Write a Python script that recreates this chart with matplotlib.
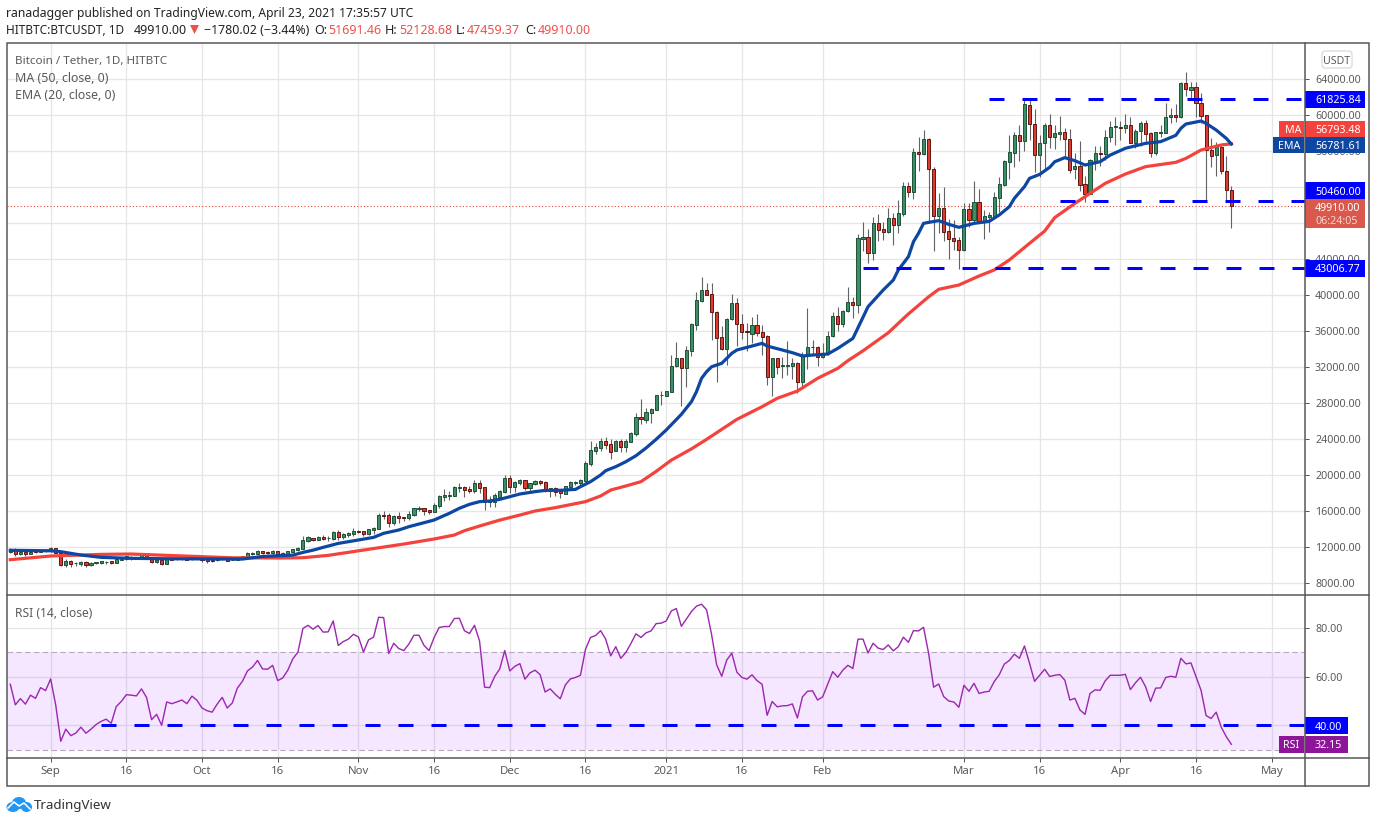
import matplotlib
matplotlib.use("Agg")
import matplotlib.pyplot as plt
import numpy as np
import pandas as pd
from matplotlib.patches import Ellipse, FancyBboxPatch, Polygon, Rectangle

plt.rcParams["font.family"] = ["Noto Sans", "DejaVu Sans"]

W, H = 1376, 823

# Daily candles
start_date = "2020-08-24"
opens = [
    11480, 11740, 11260, 11410, 11260, 11520, 11440, 11660, 11520, 11850,
    11370, 10000, 10410, 10180, 10150, 10300, 10040, 10190, 10260, 10370,
    10410, 10260, 10590, 10670, 10930, 10850, 10820, 11070, 10850, 10370,
    10550, 10150, 10780, 10630, 10660, 10780, 10630, 10850, 10740, 10670,
    10590, 10520, 10630, 10740, 10580, 10590, 10820, 10890, 11260, 11220,
    11520, 11440, 11330, 11520, 11150, 11220, 11480, 11670, 11810, 12670,
    12960, 12780, 13110, 12990, 12920, 13630, 13070, 13330, 13440, 13780,
    13780, 13440, 13890, 14030, 15520, 15550, 14630, 15400, 15330, 15220,
    15550, 16220, 16330, 16070, 15920, 16550, 17550, 17660, 17700, 18520,
    18630, 18440, 18260, 19070, 18630, 17050, 17040, 17590, 18150, 19660,
    18660, 19110, 19440, 18550, 19000, 19330, 19220, 18220, 18520, 18180,
    17920, 18660, 19110, 19110, 19330, 21220, 22700, 23040, 23740, 23400,
    22700, 23740, 23150, 23700, 24590, 26400, 26110, 26920, 27260, 28870,
    28810, 29260, 32150, 32960, 31930, 33810, 36700, 39370, 40520, 40070,
    38070, 35300, 33960, 37300, 39070, 36740, 36000, 35700, 36630, 35850,
    35410, 30850, 32960, 32070, 32110, 32150, 32410, 30300, 33260, 34180,
    34180, 33070, 33480, 35410, 37630, 36810, 38260, 39190, 38900, 46260,
    46440, 44700, 47960, 47300, 47000, 48520, 47810, 49040, 52070, 51480,
    55890, 55700, 57300, 54040, 48820, 49630, 47070, 46300, 46070, 45000,
    49520, 48330, 50330, 48220, 48700, 48810, 50810, 52260, 54810, 55810,
    57740, 57150, 61070, 58960, 55520, 56850, 58850, 57590, 57920, 58070,
    57290, 54030, 54290, 52300, 51260, 54920, 55740, 55700, 57520, 58660,
    58630, 58560, 58850, 56930, 58180, 59070, 57960, 55810, 58040, 58040,
    59740, 59960, 59810, 63520, 62810, 63070, 61330, 59960, 56070, 55590,
    56410, 53740, 51691,
]
highs = [
    11850, 11850, 11590, 11480, 11520, 11560, 11700, 11770, 11960, 11930,
    11480, 10630, 10560, 10330, 10450, 10410, 10330, 10370, 10420, 10410,
    10440, 10740, 10720, 11040, 11000, 10930, 11110, 11110, 10930, 10670,
    10630, 10780, 10820, 10780, 10810, 10960, 10890, 10890, 10820, 10740,
    10670, 10700, 10780, 10780, 10700, 10890, 11040, 11410, 11440, 11670,
    11560, 11520, 11670, 11590, 11410, 11590, 11810, 11960, 13220, 13220,
    13030, 13180, 13330, 13220, 13770, 13850, 13550, 13630, 14110, 13850,
    13780, 14040, 14260, 15810, 15960, 15740, 15520, 15890, 15370, 16000,
    16370, 16520, 16370, 16110, 16850, 17770, 18440, 18220, 18740, 19070,
    18810, 18770, 19440, 19440, 18700, 17700, 18000, 18330, 19960, 19960,
    19290, 19550, 19480, 19150, 19440, 19400, 19370, 18600, 18630, 18330,
    18810, 19290, 19370, 19520, 21560, 23770, 23550, 24140, 24260, 23960,
    23890, 24030, 23960, 24740, 26850, 28400, 27400, 27400, 28925, 29330,
    29370, 33330, 34780, 33000, 34330, 36850, 40330, 41960, 41370, 41300,
    38180, 36560, 37410, 40110, 39700, 37890, 36850, 37590, 37890, 36660,
    35560, 33000, 33040, 33070, 34890, 32960, 32590, 33700, 38520, 35000,
    34330, 34630, 36030, 38150, 38700, 38330, 40850, 39800, 46780, 48110,
    47330, 48700, 49000, 48110, 49700, 49070, 50560, 52520, 52560, 56330,
    57560, 58330, 57410, 54180, 51330, 52000, 48410, 48330, 46480, 50180,
    50260, 52700, 51780, 49440, 49260, 51440, 53070, 55000, 57780, 58150,
    58890, 61670, 61670, 60630, 57780, 59070, 60110, 58890, 59890, 58520,
    58410, 55740, 57110, 53220, 55070, 56550, 56550, 58330, 59330, 59740,
    59370, 60110, 59810, 58410, 59330, 59440, 58150, 58150, 58890, 61370,
    60740, 61220, 63700, 64740, 63700, 63630, 62410, 60000, 57400, 57040,
    56550, 55440, 52129,
]
lows = [
    11370, 11000, 11110, 11000, 11220, 11370, 11400, 11440, 11440, 11300,
    9930, 9810, 9810, 9890, 9890, 9810, 9930, 10100, 10110, 10110,
    10110, 10180, 10550, 10550, 10550, 10670, 10780, 10670, 10260, 10260,
    10030, 10100, 10560, 10590, 10550, 10550, 10590, 10630, 10370, 10220,
    10370, 10480, 10590, 10440, 10520, 10550, 10780, 10820, 11110, 11110,
    11180, 11220, 11110, 11110, 11000, 11110, 11440, 11590, 11740, 12560,
    12630, 12740, 12780, 12670, 12800, 12780, 12920, 13110, 13220, 13590,
    13220, 13330, 13440, 14000, 15080, 14260, 14440, 14700, 14890, 15000,
    15410, 16000, 15550, 15630, 15850, 16290, 17110, 17220, 17630, 18150,
    17590, 18000, 17960, 18000, 16110, 16400, 16480, 17370, 17960, 18000,
    18150, 18850, 18300, 18000, 18890, 18850, 18150, 17520, 17700, 17410,
    17880, 18370, 18890, 18740, 19250, 21050, 22370, 22700, 22930, 21810,
    22700, 22590, 22590, 23630, 24350, 25660, 25740, 25810, 27220, 27780,
    28780, 29190, 31960, 27700, 29810, 33220, 36110, 39200, 39960, 35000,
    30370, 33890, 32220, 37220, 34330, 35070, 33810, 34630, 35440, 33330,
    30000, 28780, 31220, 30780, 31110, 30670, 29150, 29740, 31810, 33440,
    32150, 32960, 33370, 35300, 36030, 36480, 38150, 37500, 37990, 44930,
    43590, 43890, 46030, 46110, 46920, 45560, 46920, 48780, 50850, 50700,
    53820, 55550, 47960, 44890, 46850, 46030, 44000, 45000, 42890, 44930,
    47590, 47960, 48150, 46220, 47040, 48780, 49260, 52110, 52890, 54260,
    54930, 56000, 57220, 53700, 53150, 53890, 56300, 56190, 57220, 55180,
    53520, 52890, 51590, 50370, 51180, 53890, 54330, 55000, 57040, 56660,
    57220, 57960, 56850, 56300, 56550, 56850, 55370, 55550, 57590, 57960,
    59150, 59260, 59700, 62110, 61740, 59810, 59070, 50370, 54180, 53260,
    53440, 50560, 47459,
]
closes = [
    11740, 11220, 11480, 11220, 11480, 11410, 11630, 11520, 11850, 11370,
    10000, 10410, 10150, 10190, 10300, 10000, 10220, 10330, 10410, 10380,
    10220, 10630, 10700, 10960, 10740, 10870, 11070, 10780, 10370, 10550,
    10150, 10740, 10590, 10740, 10670, 10590, 10850, 10670, 10590, 10480,
    10480, 10670, 10740, 10480, 10590, 10850, 11000, 11330, 11330, 11550,
    11370, 11330, 11590, 11260, 11330, 11520, 11780, 11890, 12780, 13070,
    12740, 13110, 12890, 13030, 13660, 13110, 13440, 13550, 13780, 13660,
    13440, 13990, 14110, 15520, 15480, 14700, 15440, 15220, 15220, 15630,
    16330, 16330, 16040, 15890, 16630, 17660, 17740, 17770, 18630, 18630,
    18370, 18260, 19070, 18590, 17040, 17070, 17770, 18220, 19660, 18660,
    19220, 19440, 18550, 19070, 19330, 19110, 18220, 18520, 18150, 17960,
    18740, 19180, 19220, 19440, 21290, 22740, 23110, 23740, 23370, 22590,
    23740, 23150, 23740, 24670, 26400, 26260, 26960, 27300, 28850, 28890,
    29300, 32070, 32960, 31930, 33850, 36740, 39410, 40520, 40040, 38070,
    35260, 33960, 37300, 39070, 36740, 35930, 35850, 36630, 35780, 35370,
    30850, 32960, 32040, 32180, 32180, 32410, 30300, 33260, 34180, 34170,
    33070, 33480, 35410, 37630, 36810, 38190, 39190, 38900, 46300, 46440,
    44700, 47960, 47260, 47040, 48520, 47810, 49070, 52070, 51480, 55850,
    55700, 57300, 54040, 48820, 49630, 47040, 46260, 46040, 45000, 49520,
    48370, 50330, 48220, 48780, 48890, 50850, 52300, 54850, 55850, 57740,
    57150, 61180, 58960, 55520, 56850, 58850, 57590, 57960, 58070, 57290,
    53920, 54290, 52220, 51260, 54960, 55740, 55700, 57520, 58630, 58740,
    58590, 58850, 56930, 58220, 59070, 57920, 55810, 58070, 58110, 59740,
    59960, 59810, 63520, 62850, 63070, 61300, 59920, 56070, 55480, 56410,
    53740, 51690, 49910,
]

# Indicator lines, sampled along each curve (day index, price)
ema_days = [
    0, 8, 10, 14, 18, 24, 30, 40, 46, 50, 56, 58, 60, 62, 65, 69, 72, 74, 77, 79,
    82, 84, 87, 89, 91, 93, 95, 97, 99, 101, 104, 106, 109, 112, 113, 115, 117,
    118, 120, 122, 124, 126, 128, 130, 133, 135, 136, 137, 138, 139, 141, 142,
    143, 144, 146, 149, 150, 153, 155, 157, 159, 162, 164, 167, 170, 173, 175,
    176, 178, 179, 180, 181, 182, 184, 186, 188, 191, 194, 196, 198, 199, 201,
    202, 204, 206, 207, 209, 211, 213, 216, 218, 221, 225, 228, 231, 232, 233,
    236, 237, 239, 241, 242,
]
ema_values = [
    11630, 11580, 11480, 11110, 10850, 10740, 10700, 10670, 10660, 10950, 11100,
    11400, 11650, 11960, 12400, 12780, 13070, 13520, 13890, 14260, 14700, 15000,
    15740, 16300, 16740, 17040, 17110, 17295, 17590, 17890, 18150, 18290, 18300,
    18400, 18700, 19260, 20000, 20480, 20925, 21480, 22140, 23000, 23960, 25000,
    26740, 28150, 29260, 30740, 31480, 32030, 32410, 32960, 33520, 33890, 34180,
    34630, 34330, 33890, 33590, 33220, 33330, 33440, 34070, 35180, 38700, 40550,
    41660, 42780, 44260, 45920, 46850, 47960, 48070, 48260, 47850, 47520, 47960,
    48180, 48890, 49810, 50740, 52040, 52960, 53400, 54190, 54810, 55260, 54920,
    54440, 54810, 55550, 56300, 56850, 57040, 57740, 58520, 59000, 59330, 59070,
    58330, 57400, 56782,
]
ma_days = [
    0, 8, 18, 24, 31, 38, 44, 54, 58, 63, 70, 78, 84, 88, 90, 93, 97, 101, 104,
    108, 114, 117, 119, 122, 125, 128, 131, 135, 138, 144, 149, 152, 156, 160,
    164, 166, 169, 174, 178, 182, 184, 188, 192, 195, 198, 202, 205, 207, 211,
    214, 217, 221, 225, 231, 233, 236, 240, 242,
]
ma_values = [
    10590, 11000, 11180, 11220, 11070, 10925, 10800, 10780, 10810, 11070, 11660,
    12330, 12890, 13330, 13810, 14330, 14990, 15550, 16000, 16370, 17040, 17670,
    18330, 18780, 19260, 20400, 21650, 22900, 23960, 26180, 27590, 28520, 29330,
    30740, 31850, 32700, 33800, 35800, 37900, 39800, 40630, 41110, 42110, 42780,
    43890, 45740, 47100, 48600, 50180, 51290, 52400, 53440, 54260, 54740, 55180,
    56110, 56670, 56793,
]

# RSI, one value per candle
rsi_values = [
    56.9, 48.4, 51.0, 48.7, 52.4, 51.1, 55.5, 54.3, 59.1, 48.4,
    33.4, 38.4, 35.7, 36.8, 39.2, 36.7, 38.4, 40.3, 41.6, 42.5,
    40.8, 47.7, 49.8, 52.6, 52.4, 52.1, 55.0, 51.5, 42.3, 44.5,
    40.0, 49.6, 48.9, 49.6, 50.4, 48.9, 52.0, 50.3, 47.1, 46.0,
    45.4, 48.7, 51.5, 47.1, 49.2, 55.3, 58.1, 62.4, 64.0, 66.7,
    63.2, 63.1, 64.7, 58.4, 59.5, 62.7, 67.4, 70.1, 79.9, 81.2,
    79.6, 81.1, 78.4, 78.5, 83.0, 72.9, 74.5, 75.5, 77.5, 76.4,
    70.2, 75.2, 76.3, 84.5, 84.4, 69.6, 73.8, 71.6, 70.8, 73.5,
    77.1, 77.1, 72.9, 70.8, 76.2, 80.3, 80.7, 80.7, 84.0, 84.1,
    79.0, 77.8, 81.2, 74.8, 55.7, 55.5, 60.1, 63.2, 70.8, 62.4,
    64.3, 65.4, 59.0, 61.6, 62.7, 60.9, 53.7, 55.0, 52.8, 50.9,
    56.6, 59.1, 59.7, 60.6, 71.3, 76.2, 77.0, 79.0, 75.5, 68.6,
    72.4, 67.6, 70.0, 73.7, 77.7, 76.2, 78.1, 78.9, 81.9, 82.1,
    83.0, 87.1, 88.1, 80.8, 83.8, 86.9, 89.1, 89.9, 87.6, 77.3,
    64.9, 60.2, 66.9, 69.7, 61.9, 59.7, 59.0, 60.8, 58.4, 56.9,
    44.1, 49.8, 47.6, 48.0, 48.1, 48.8, 43.0, 51.7, 54.0, 54.2,
    50.4, 51.7, 56.9, 62.1, 59.8, 62.7, 64.7, 63.4, 75.5, 75.5,
    69.8, 73.8, 71.8, 71.2, 73.1, 70.7, 72.4, 76.3, 74.2, 79.0,
    78.9, 80.4, 69.7, 55.7, 57.0, 51.8, 50.0, 49.6, 47.4, 56.5,
    54.0, 57.3, 53.1, 53.7, 54.0, 58.0, 60.8, 65.2, 66.7, 69.3,
    67.6, 72.7, 65.6, 58.1, 60.6, 63.1, 60.1, 60.6, 60.9, 58.6,
    50.4, 51.1, 46.3, 44.5, 53.1, 54.6, 54.4, 58.3, 60.6, 60.6,
    60.6, 61.0, 54.7, 57.5, 59.8, 55.9, 49.8, 55.3, 55.4, 59.7,
    60.2, 59.8, 67.6, 65.3, 65.7, 60.1, 54.4, 44.0, 42.8, 45.4,
    39.2, 35.3, 32.15,
]

# Support and resistance levels drawn by the author (first day, level)
level_starts = [194, 208, 169]
level_prices = [61825.84, 50460.00, 43006.77]
rsi_level_start = 18
rsi_level = 40.00
last_price = 49910.00

# Axis ticks, labels under the price flags are not visible in the chart
price_ticks = list(range(8000, 68000, 4000))
hidden_price_labels = [48000, 52000]
rsi_ticks = [40, 60, 80]
hidden_rsi_labels = [40]
time_tick_dates = [
    "2020-09-01", "2020-09-16", "2020-10-01", "2020-10-16", "2020-11-01",
    "2020-11-16", "2020-12-01", "2020-12-16", "2021-01-01", "2021-01-16",
    "2021-02-01", "2021-03-01", "2021-03-16", "2021-04-01", "2021-04-16",
    "2021-05-01",
]
time_tick_labels = [
    "Sep", "16", "Oct", "16", "Nov", "16", "Dec", "16", "2021", "16",
    "Feb", "Mar", "16", "Apr", "16", "May",
]

GRID = "#e6e6e6"
AXIS = "#555555"
TEXT = "#5a5a5a"
BLUE_LINE = "#0d47a1"
RED_LINE = "#f4433c"
LEVEL = "#0000ff"
PURPLE = "#8e1599"
PX = 72 / 100  # one pixel in points
SCALE_SIZE = 7.7


def pane(left, top, right, bottom):
    return fig.add_axes([left / W, 1 - bottom / H, (right - left) / W, (bottom - top) / H])


fig = plt.figure(figsize=(W / 100, H / 100), dpi=100, facecolor="white")
ax = pane(6.5, 43, 1305, 595)
ax_rsi = pane(6.5, 595, 1305, 758)

days = np.arange(len(closes))
tick_days = (pd.to_datetime(time_tick_dates) - pd.Timestamp(start_date)).days
xlim = (-0.75, 256.6)

for a in (ax, ax_rsi):
    a.set_xlim(*xlim)
    a.set_xticks(tick_days)
    a.grid(True, color=GRID, lw=1.3 * PX, zorder=0)
    a.set_axisbelow(True)
    for s in a.spines.values():
        s.set_visible(False)
    a.yaxis.tick_right()
    a.tick_params(axis="y", length=4 * PX, width=PX, color=AXIS, pad=6 * PX,
                  labelsize=SCALE_SIZE, labelcolor=TEXT)

# Price pane
ax.set_ylim(6667, 68000)
ax.set_yticks(price_ticks)
ax.set_yticklabels(["" if p in hidden_price_labels else f"{p:.2f}" for p in price_ticks])
ax.tick_params(axis="x", length=0, labelbottom=False)

o = np.array(opens, dtype=float)
c = np.array(closes, dtype=float)
up = c >= o
ax.vlines(days, lows, highs, color="#626262", lw=1.1 * PX, zorder=3)
ax.bar(days[up], (c - o)[up], bottom=o[up], width=0.62, color="#3b8f68",
       edgecolor="#1c4f34", lw=0.95 * PX, zorder=4)
ax.bar(days[~up], (o - c)[~up], bottom=c[~up], width=0.62, color="#dd3a30",
       edgecolor="#5e1410", lw=0.95 * PX, zorder=4)

ax.plot(ma_days, ma_values, color=RED_LINE, lw=3.2 * PX, zorder=5)
ax.plot(ema_days, ema_values, color=BLUE_LINE, lw=3.2 * PX, zorder=6)
ax.axhline(last_price, color="#e5483d", lw=1.1 * PX, ls=(0, (1, 2)), zorder=2)
for d0, level in zip(level_starts, level_prices):
    ax.plot([d0, xlim[1]], [level, level], color=LEVEL, lw=3 * PX, ls=(0, (5, 6)),
            dash_capstyle="butt", zorder=7)

# RSI pane
ax_rsi.set_ylim(26.5, 93.7)
ax_rsi.set_yticks(rsi_ticks)
ax_rsi.set_yticklabels(["" if r in hidden_rsi_labels else f"{r:.2f}" for r in rsi_ticks])
ax_rsi.set_xticklabels(time_tick_labels)
ax_rsi.tick_params(axis="x", length=4 * PX, width=PX, color=AXIS, pad=4 * PX,
                   labelsize=8.2, labelcolor=TEXT)
for lab in ax_rsi.get_xticklabels():
    if lab.get_text() == "2021":
        lab.set_fontweight("bold")

ax_rsi.axhspan(30, 70, color="#9915ff", alpha=0.1, lw=0, zorder=1)
for level in (30, 70):
    ax_rsi.axhline(level, color="#b7a8bd", lw=1.1 * PX, ls=(0, (5, 3)), zorder=2)
ax_rsi.plot(days, rsi_values, color="#9c27b0", lw=1.4 * PX, zorder=4)
ax_rsi.plot([rsi_level_start, xlim[1]], [rsi_level, rsi_level], color=LEVEL, lw=3 * PX,
            ls=(0, (5, 6)), dash_capstyle="butt", zorder=5)

# Frame, flags and texts sit on a full figure layer in pixel coordinates
top = fig.add_axes([0, 0, 1, 1], zorder=10)
top.set_xlim(0, W)
top.set_ylim(H, 0)
top.axis("off")

top.add_patch(Rectangle((6.5, 43), 1362, 743, fill=False, ec=AXIS, lw=1.5 * PX))
top.plot([1305, 1305], [43, 786], color=AXIS, lw=1.5 * PX)
top.plot([6.5, 1369], [595, 595], color=AXIS, lw=1.5 * PX)
top.plot([6.5, 1369], [758, 758], color=AXIS, lw=1.5 * PX)


def flag(x0, x1, y0, y1, color, label, tx=1315):
    top.add_patch(Rectangle((x0, y0), x1 - x0, y1 - y0, fc=color, ec="none"))
    top.text(tx, (y0 + y1) / 2, label, color="white", va="center_baseline",
             fontsize=SCALE_SIZE, fontweight="bold")


flag(1305, 1365, 91, 107.5, LEVEL, "61825.84")
flag(1305, 1365, 121, 137.3, RED_LINE, "56793.48")
flag(1305, 1365, 137.3, 153, BLUE_LINE, "56781.61")
flag(1279, 1304, 121, 137.3, RED_LINE, "MA", tx=1285)
flag(1273, 1304, 137.3, 153, BLUE_LINE, "EMA", tx=1278)
flag(1305, 1365, 182, 199, LEVEL, "50460.00")
top.add_patch(Rectangle((1305, 199), 60, 29, fc="#d9594c", ec="none"))
top.text(1315, 207, "49910.00", color="white", va="center_baseline", fontsize=SCALE_SIZE, fontweight="bold")
top.text(1315, 220, "06:24:05", color="#f6d5d0", va="center_baseline", fontsize=SCALE_SIZE)
flag(1305, 1365, 260, 276.7, LEVEL, "43006.77")
flag(1305, 1348, 717, 734, LEVEL, "40.00")
flag(1305, 1348, 736, 752.7, PURPLE, "32.15")
flag(1279, 1304, 736, 752.7, PURPLE, "RSI", tx=1283)

top.add_patch(FancyBboxPatch((1323, 52), 28, 15, boxstyle="round,pad=1,rounding_size=3",
                             fc="white", ec="#d4d4d4", lw=1.1 * PX))
top.text(1337, 59.5, "USDT", color=TEXT, fontsize=7.6, ha="center", va="center_baseline")

top.text(15, 60, "Bitcoin / Tether, 1D, HITBTC", color=TEXT, fontsize=8.4, va="center_baseline", fontweight="bold")
top.text(15, 77, "MA (50, close, 0)", color=TEXT, fontsize=8.9, va="center_baseline")
top.text(15, 94, "EMA (20, close, 0)", color=TEXT, fontsize=8.9, va="center_baseline")
top.text(15, 612, "RSI (14, close)", color=TEXT, fontsize=8.7, va="center_baseline")

# Header lines
DARK = "#222222"
RED_TEXT = "#f0504a"
top.text(6, 12, "ranadagger", color=DARK, fontsize=8.8, fontweight="bold", va="center_baseline")
top.text(77, 12, "published on TradingView.com, April 23, 2021 17:35:57 UTC", color=DARK,
         fontsize=8.7, va="center_baseline")
header_parts = [
    (6, "HITBTC:BTCUSDT, 1D", DARK, "bold", 8.5),
    (134, "49910.00", DARK, "normal", 9),
    (204, "−1780.02 (−3.44%)", DARK, "normal", 8.9),
    (314, "O:", DARK, "bold", 9),
    (328, "51691.46", RED_TEXT, "normal", 9),
    (385, "H:", DARK, "bold", 9),
    (399, "52128.68", RED_TEXT, "normal", 9),
    (456, "L:", DARK, "bold", 9),
    (467, "47459.37", RED_TEXT, "normal", 9),
    (525, "C:", DARK, "bold", 9),
    (538, "49910.00", RED_TEXT, "normal", 9),
]
for x0, label, color, weight, size in header_parts:
    top.text(x0, 29, label, color=color, fontsize=size, fontweight=weight, va="center_baseline")
top.add_patch(Polygon([(190, 25), (199, 25), (194.5, 34)], fc="#f0504a", ec="none"))

# TradingView logo
cloud = "#2196f3"
top.add_patch(Ellipse((13, 807), 13, 10, fc=cloud, ec="none"))
top.add_patch(Ellipse((19, 803), 14, 12, fc=cloud, ec="none"))
top.add_patch(Ellipse((26.5, 807), 11, 10, fc=cloud, ec="none"))
top.plot([8, 14, 19, 24, 30], [808, 802, 806, 803, 809], color="white", lw=1.6 * PX)
top.text(34, 804.5, "TradingView", color="#333333", fontsize=9.6, va="center_baseline")

fig.savefig("out.png", dpi=100)
